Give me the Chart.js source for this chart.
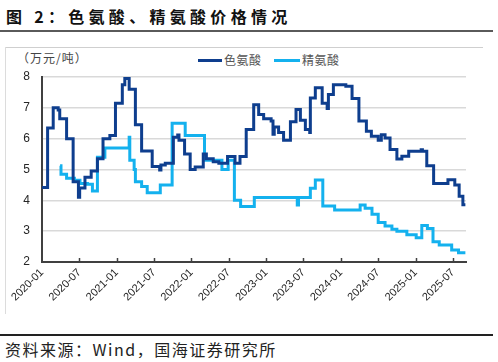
<!DOCTYPE html>
<html lang="zh">
<head>
  <meta charset="UTF-8">
  <title>色氨酸、精氨酸价格情况</title>
  <script src="https://cdn.jsdelivr.net/npm/chart.js"></script>
  <style>
    body {
      margin: 0;
      width: 498px;
      height: 362px;
      position: relative;
      background: #fff;
      overflow: hidden;
      font-family: "Noto Sans CJK SC", "Liberation Sans", sans-serif;
    }
    .abs { position: absolute; }
    #title {
      left: 6px; top: 4px;
      font-size: 16px; font-weight: bold; color: #111;
      letter-spacing: 4.3px; white-space: nowrap;
    }
    #titleRule { left: 0; top: 30px; width: 493px; height: 2px; background: #5a5a5a; }
    #boxTop { left: 5px; top: 47px; width: 478px; height: 1px; background: #cfcfcf; }
    #boxLeft { left: 5px; top: 47px; width: 1px; height: 267px; background: #dcdcdc; }
    #unit { left: 17px; top: 49px; font-size: 12px; color: #444; letter-spacing: 1px; }
    .legLine { height: 3px; top: 59px; }
    .legText { top: 51px; font-size: 12px; color: #555; letter-spacing: 0.5px; }
    #footRule { left: 0; top: 334px; width: 493px; height: 2px; background: #222; }
    #foot { left: 5px; top: 337px; font-size: 16px; color: #222; letter-spacing: 1.5px; white-space: nowrap; }
    canvas { position: absolute; left: 0; top: 0; }
  </style>
</head>
<body>
  <div id="title" class="abs">图 2：色氨酸、精氨酸价格情况</div>
  <div id="titleRule" class="abs"></div>
  <div id="boxTop" class="abs"></div>
  <div id="boxLeft" class="abs"></div>
  <div id="unit" class="abs">（万元/吨）</div>
  <div class="abs legLine" style="left:198px;width:24px;background:#0E3E8E"></div>
  <div class="abs legText" style="left:224px">色氨酸</div>
  <div class="abs legLine" style="left:274px;width:26px;background:#14B1EE"></div>
  <div class="abs legText" style="left:302px">精氨酸</div>
  <div id="footRule" class="abs"></div>
  <div id="foot" class="abs">资料来源：Wind，国海证券研究所</div>

  <canvas id="chartCanvas" width="498" height="362"></canvas>

  <script>
    // months counted from 2020-01, each value holds until the next point
    const tryMonths = [0, 0.9, 1.8, 2.6, 2.85, 3.95, 5.0, 5.85, 6.05, 6.9, 7.9, 8.9, 9.8, 10.9, 11.8, 12.9, 13.3, 14.0,
      15.0, 16.0, 17.7, 18.9, 19.1, 19.8, 21.1, 21.8, 22.0, 22.9, 23.8, 24.6, 25.9, 26.4, 27.5, 28.4, 29.8, 31.0, 31.8,
      32.8, 34.0, 34.8, 35.6, 36.8, 37.1, 37.3, 38.0, 38.8, 39.9, 40.8, 41.5, 42.3, 43.0, 43.1, 43.9, 45.0, 45.8, 46.0,
      46.8, 48.8, 49.8, 50.9, 52.1, 52.9, 54.0, 54.5, 55.1, 55.9, 57.0, 57.8, 58.9, 60.9, 61.1, 61.8, 62.9, 65.2, 66.3,
      67.0, 67.6, 68.0];
    const tryPrices = [4.42, 6.35, 7.0, 6.93, 6.65, 6.0, 4.6, 4.1, 4.4, 4.75, 4.95, 5.35, 6.0, 6.1, 7.15, 7.75, 7.95, 7.6,
      6.45, 5.6, 5.1, 4.98, 5.15, 5.2, 6.05, 6.12, 5.95, 5.5, 5.0, 5.08, 5.5, 5.35, 5.25, 5.2, 5.42, 5.2, 5.42,
      6.3, 7.1, 6.78, 6.65, 6.57, 6.14, 6.38, 6.2, 5.95, 6.55, 6.95, 6.6, 6.3, 6.2, 7.32, 7.65, 7.15, 6.98, 7.43,
      7.75, 7.7, 7.3, 6.57, 6.24, 6.08, 5.95, 6.13, 6.02, 5.65, 5.34, 5.43, 5.59, 5.64, 5.59, 5.12, 4.55, 4.67, 4.5,
      4.13, 3.86, 3.86];

    const argMonths = [2.9, 3.05, 3.95, 5.2, 6.1, 7.3, 8.1, 8.9, 10.1, 14.0, 14.1, 14.8, 15.0, 16.0, 16.9, 19.0, 20.9,
      23.0, 26.1, 28.9, 29.9, 30.9, 31.9, 34.1, 41.0, 41.2, 43.1, 43.9, 45.1, 47.0, 51.1, 51.9, 53.0, 54.0, 55.1, 56.2,
      57.0, 58.6, 60.1, 61.0, 61.9, 62.8, 63.8, 65.8, 66.9, 68.0];
    const argPrices = [5.12, 4.85, 4.72, 4.65, 4.55, 4.52, 4.3, 5.4, 5.7, 6.05, 5.3, 5.0, 4.6, 4.45, 4.25, 4.5, 6.5,
      6.1, 5.3, 5.0, 5.3, 4.0, 3.8, 4.09, 3.85, 4.09, 4.39, 4.66, 3.82, 3.69, 3.85, 3.74, 3.55, 3.28, 3.17, 3.06,
      3.0, 2.88, 2.79, 3.18, 3.09, 2.66, 2.55, 2.39, 2.3, 2.3];

    const tickMonths = [0, 6, 12, 18, 24, 30, 36, 42, 48, 54, 60, 66];
    const tickLabels = ['2020-01', '2020-07', '2021-01', '2021-07', '2022-01', '2022-07',
      '2023-01', '2023-07', '2024-01', '2024-07', '2025-01', '2025-07'];

    const toPoints = (xs, ys) => xs.map((x, i) => ({ x: x, y: ys[i] }));

    // small inward tick marks on the x axis
    const innerTicks = {
      id: 'innerTicks',
      afterDraw(chart) {
        const xs = chart.scales.x;
        const ctx = chart.ctx;
        const bottom = chart.chartArea.bottom;
        ctx.save();
        ctx.strokeStyle = '#404040';
        ctx.lineWidth = 1.5;
        tickMonths.forEach(m => {
          if (m === 0) return;
          const px = Math.round(xs.getPixelForValue(m)) + 0.5;
          ctx.beginPath();
          ctx.moveTo(px, bottom);
          ctx.lineTo(px, bottom - 4);
          ctx.stroke();
        });
        ctx.restore();
      }
    };

    const ctx = document.getElementById('chartCanvas').getContext('2d');
    new Chart(ctx, {
      type: 'line',
      data: {
        datasets: [{
          label: '色氨酸',
          data: toPoints(tryMonths, tryPrices),
          borderColor: '#0E3E8E',
          borderWidth: 3,
          stepped: 'before',
          pointRadius: 0,
          borderJoinStyle: 'miter',
          fill: false
        }, {
          label: '精氨酸',
          data: toPoints(argMonths, argPrices),
          borderColor: '#14B1EE',
          borderWidth: 3,
          stepped: 'before',
          pointRadius: 0,
          borderJoinStyle: 'miter',
          fill: false
        }]
      },
      options: {
        responsive: false,
        animation: false,
        layout: { padding: { left: 0, top: 77, right: 32, bottom: 0 } },
        plugins: {
          legend: { display: false },
          tooltip: { enabled: false }
        },
        scales: {
          x: {
            type: 'linear',
            min: 0,
            max: 68.1,
            afterFit: s => { s.height = 100; },
            afterBuildTicks: s => { s.ticks = tickMonths.map(v => ({ value: v })); },
            grid: { display: false, drawTicks: false },
            border: { display: true, color: '#404040', width: 2 },
            ticks: {
              autoSkip: false,
              minRotation: 45,
              maxRotation: 45,
              padding: 4,
              color: '#262626',
              font: { family: 'Liberation Sans', size: 11 },
              callback: v => tickLabels[tickMonths.indexOf(v)]
            }
          },
          y: {
            min: 2,
            max: 8,
            afterFit: s => { s.width = 42; },
            grid: { color: '#d9d9d9', lineWidth: 1.5, drawTicks: false },
            border: { display: true, color: '#404040', width: 2 },
            ticks: {
              stepSize: 1,
              padding: 12,
              color: '#262626',
              font: { family: 'Liberation Sans', size: 12 }
            }
          }
        }
      },
      plugins: [innerTicks]
    });
  </script>
</body>
</html>
